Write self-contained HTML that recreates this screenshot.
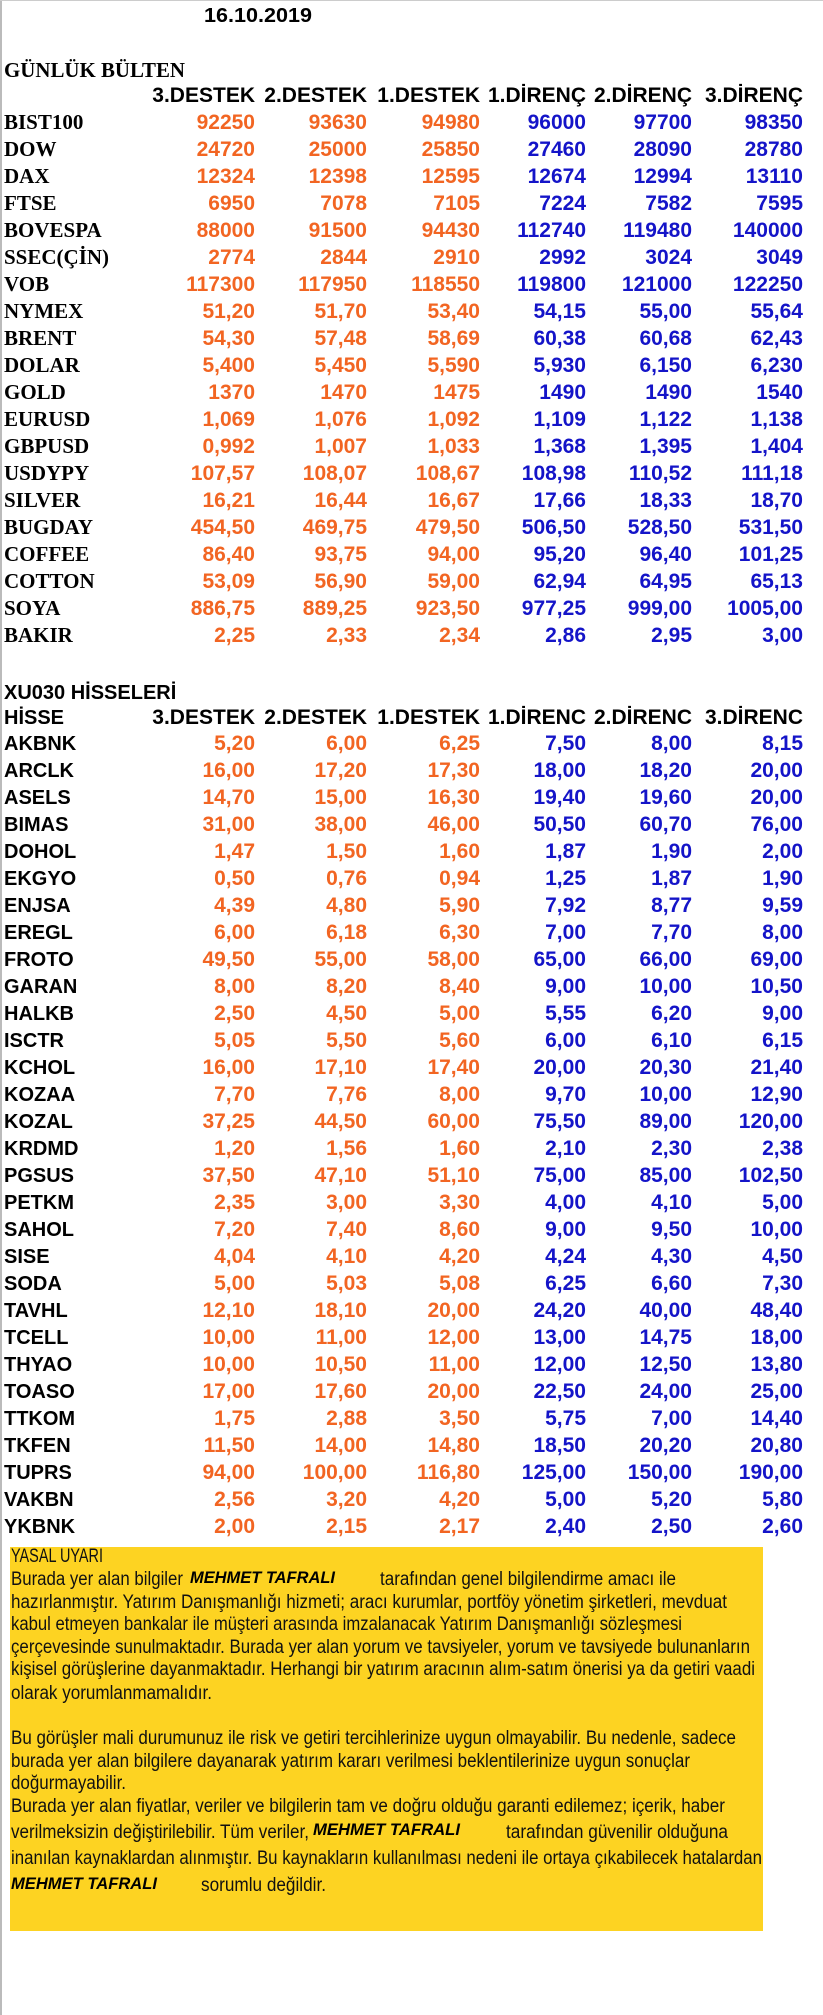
<!DOCTYPE html>
<html><head><meta charset="utf-8"><style>
html,body{margin:0;padding:0;background:#fff;}
svg{display:block;}
.l{font-family:"Liberation Serif",serif;font-weight:bold;font-size:21px;fill:#000;}
.s{font-family:"Liberation Sans",sans-serif;font-weight:bold;font-size:20px;fill:#000;}
.h{font-family:"Liberation Sans",sans-serif;font-weight:bold;font-size:21px;fill:#000;text-anchor:end;}
.o{font-family:"Liberation Sans",sans-serif;font-weight:bold;font-size:21px;fill:#F26522;text-anchor:end;}
.b{font-family:"Liberation Sans",sans-serif;font-weight:bold;font-size:21px;fill:#1414C8;text-anchor:end;}
.t{font-family:"Liberation Sans Narrow","Liberation Sans",sans-serif;font-size:19px;fill:#111;}
.m{font-family:"Liberation Sans",sans-serif;font-size:17px;font-weight:bold;font-style:italic;fill:#000;}
</style></head><body>
<svg width="823" height="2015" xmlns="http://www.w3.org/2000/svg">
<rect x="0" y="0" width="823" height="2015" fill="#fff"/>
<rect x="0" y="0" width="2" height="2015" fill="#bbb"/>
<rect x="0" y="0" width="823" height="1" fill="#ccc"/>
<text x="204" y="22" class="s" font-size="19" textLength="108" lengthAdjust="spacingAndGlyphs">16.10.2019</text>
<text x="4" y="77" class="l" textLength="181" lengthAdjust="spacingAndGlyphs">GÜNLÜK BÜLTEN</text>
<rect x="10" y="1547" width="753" height="384" fill="#FDD322"/>
<text x="11" y="1562" class="t" textLength="92" lengthAdjust="spacingAndGlyphs">YASAL UYARI</text>
<text x="11" y="1585" class="t" textLength="172" lengthAdjust="spacingAndGlyphs">Burada yer alan bilgiler</text>
<text x="190" y="1583" class="m" textLength="145" lengthAdjust="spacingAndGlyphs">MEHMET TAFRALI</text>
<text x="380" y="1585" class="t" textLength="296" lengthAdjust="spacingAndGlyphs">tarafından genel bilgilendirme amacı ile</text>
<text x="11" y="1608" class="t" textLength="716" lengthAdjust="spacingAndGlyphs">hazırlanmıştır. Yatırım Danışmanlığı hizmeti; aracı kurumlar, portföy yönetim şirketleri, mevduat</text>
<text x="11" y="1630" class="t" textLength="671" lengthAdjust="spacingAndGlyphs">kabul etmeyen bankalar ile müşteri arasında imzalanacak Yatırım Danışmanlığı sözleşmesi</text>
<text x="11" y="1653" class="t" textLength="739" lengthAdjust="spacingAndGlyphs">çerçevesinde sunulmaktadır. Burada yer alan yorum ve tavsiyeler, yorum ve tavsiyede bulunanların</text>
<text x="11" y="1675" class="t" textLength="744" lengthAdjust="spacingAndGlyphs">kişisel görüşlerine dayanmaktadır. Herhangi bir yatırım aracının alım-satım önerisi ya da getiri vaadi</text>
<text x="11" y="1699" class="t" textLength="201" lengthAdjust="spacingAndGlyphs">olarak yorumlanmamalıdır.</text>
<text x="11" y="1744" class="t" textLength="725" lengthAdjust="spacingAndGlyphs">Bu görüşler mali durumunuz ile risk ve getiri tercihlerinize uygun olmayabilir. Bu nedenle, sadece</text>
<text x="11" y="1767" class="t" textLength="679" lengthAdjust="spacingAndGlyphs">burada yer alan bilgilere dayanarak yatırım kararı verilmesi beklentilerinize uygun sonuçlar</text>
<text x="11" y="1789" class="t" textLength="115" lengthAdjust="spacingAndGlyphs">doğurmayabilir.</text>
<text x="11" y="1812" class="t" textLength="714" lengthAdjust="spacingAndGlyphs">Burada yer alan fiyatlar, veriler ve bilgilerin tam ve doğru olduğu garanti edilemez; içerik, haber</text>
<text x="11" y="1838" class="t" textLength="298" lengthAdjust="spacingAndGlyphs">verilmeksizin değiştirilebilir. Tüm veriler,</text>
<text x="313" y="1835" class="m" textLength="147" lengthAdjust="spacingAndGlyphs">MEHMET TAFRALI</text>
<text x="506" y="1838" class="t" textLength="222" lengthAdjust="spacingAndGlyphs">tarafından güvenilir olduğuna</text>
<text x="11" y="1864" class="t" textLength="751" lengthAdjust="spacingAndGlyphs">inanılan kaynaklardan alınmıştır. Bu kaynakların kullanılması nedeni ile ortaya çıkabilecek hatalardan</text>
<text x="11" y="1889" class="m" textLength="146" lengthAdjust="spacingAndGlyphs">MEHMET TAFRALI</text>
<text x="201" y="1891" class="t" textLength="125" lengthAdjust="spacingAndGlyphs">sorumlu değildir.</text>
</svg>
<script>
(function(){
var svg=document.querySelector('svg');var NS="http://www.w3.org/2000/svg";
function T(x,y,c,s){var e=document.createElementNS(NS,'text');e.setAttribute('x',x);e.setAttribute('y',y);e.setAttribute('class',c);e.textContent=s;svg.appendChild(e);}
var R=[255,367,480,586,692,803];
var h1=["3.DESTEK","2.DESTEK","1.DESTEK","1.DİRENÇ","2.DİRENÇ","3.DİRENÇ"];
var h2=["3.DESTEK","2.DESTEK","1.DESTEK","1.DİRENC","2.DİRENC","3.DİRENC"];
h1.forEach(function(s,i){T(R[i],102,'h',s);});
var topRows=[["BIST100","92250","93630","94980","96000","97700","98350"],["DOW","24720","25000","25850","27460","28090","28780"],["DAX","12324","12398","12595","12674","12994","13110"],["FTSE","6950","7078","7105","7224","7582","7595"],["BOVESPA","88000","91500","94430","112740","119480","140000"],["SSEC(ÇİN)","2774","2844","2910","2992","3024","3049"],["VOB","117300","117950","118550","119800","121000","122250"],["NYMEX","51,20","51,70","53,40","54,15","55,00","55,64"],["BRENT","54,30","57,48","58,69","60,38","60,68","62,43"],["DOLAR","5,400","5,450","5,590","5,930","6,150","6,230"],["GOLD","1370","1470","1475","1490","1490","1540"],["EURUSD","1,069","1,076","1,092","1,109","1,122","1,138"],["GBPUSD","0,992","1,007","1,033","1,368","1,395","1,404"],["USDYPY","107,57","108,07","108,67","108,98","110,52","111,18"],["SILVER","16,21","16,44","16,67","17,66","18,33","18,70"],["BUGDAY","454,50","469,75","479,50","506,50","528,50","531,50"],["COFFEE","86,40","93,75","94,00","95,20","96,40","101,25"],["COTTON","53,09","56,90","59,00","62,94","64,95","65,13"],["SOYA","886,75","889,25","923,50","977,25","999,00","1005,00"],["BAKIR","2,25","2,33","2,34","2,86","2,95","3,00"]];
topRows.forEach(function(r,k){var y=122+k*27+7;T(4,y,'l',r[0]);for(var i=1;i<7;i++)T(R[i-1],y,i<4?'o':'b',r[i]);});
T(4,699,'s',"XU030 HİSSELERİ");
T(4,724,'s',"HİSSE");
h2.forEach(function(s,i){T(R[i],724,'h',s);});
var bot=[["AKBNK","5,20","6,00","6,25","7,50","8,00","8,15"],["ARCLK","16,00","17,20","17,30","18,00","18,20","20,00"],["ASELS","14,70","15,00","16,30","19,40","19,60","20,00"],["BIMAS","31,00","38,00","46,00","50,50","60,70","76,00"],["DOHOL","1,47","1,50","1,60","1,87","1,90","2,00"],["EKGYO","0,50","0,76","0,94","1,25","1,87","1,90"],["ENJSA","4,39","4,80","5,90","7,92","8,77","9,59"],["EREGL","6,00","6,18","6,30","7,00","7,70","8,00"],["FROTO","49,50","55,00","58,00","65,00","66,00","69,00"],["GARAN","8,00","8,20","8,40","9,00","10,00","10,50"],["HALKB","2,50","4,50","5,00","5,55","6,20","9,00"],["ISCTR","5,05","5,50","5,60","6,00","6,10","6,15"],["KCHOL","16,00","17,10","17,40","20,00","20,30","21,40"],["KOZAA","7,70","7,76","8,00","9,70","10,00","12,90"],["KOZAL","37,25","44,50","60,00","75,50","89,00","120,00"],["KRDMD","1,20","1,56","1,60","2,10","2,30","2,38"],["PGSUS","37,50","47,10","51,10","75,00","85,00","102,50"],["PETKM","2,35","3,00","3,30","4,00","4,10","5,00"],["SAHOL","7,20","7,40","8,60","9,00","9,50","10,00"],["SISE","4,04","4,10","4,20","4,24","4,30","4,50"],["SODA","5,00","5,03","5,08","6,25","6,60","7,30"],["TAVHL","12,10","18,10","20,00","24,20","40,00","48,40"],["TCELL","10,00","11,00","12,00","13,00","14,75","18,00"],["THYAO","10,00","10,50","11,00","12,00","12,50","13,80"],["TOASO","17,00","17,60","20,00","22,50","24,00","25,00"],["TTKOM","1,75","2,88","3,50","5,75","7,00","14,40"],["TKFEN","11,50","14,00","14,80","18,50","20,20","20,80"],["TUPRS","94,00","100,00","116,80","125,00","150,00","190,00"],["VAKBN","2,56","3,20","4,20","5,00","5,20","5,80"],["YKBNK","2,00","2,15","2,17","2,40","2,50","2,60"]];
bot.forEach(function(r,k){var y=743+k*27+7;T(4,y,'s',r[0]);for(var i=1;i<7;i++)T(R[i-1],y,i<4?'o':'b',r[i]);});
})();
</script>
</body></html>
